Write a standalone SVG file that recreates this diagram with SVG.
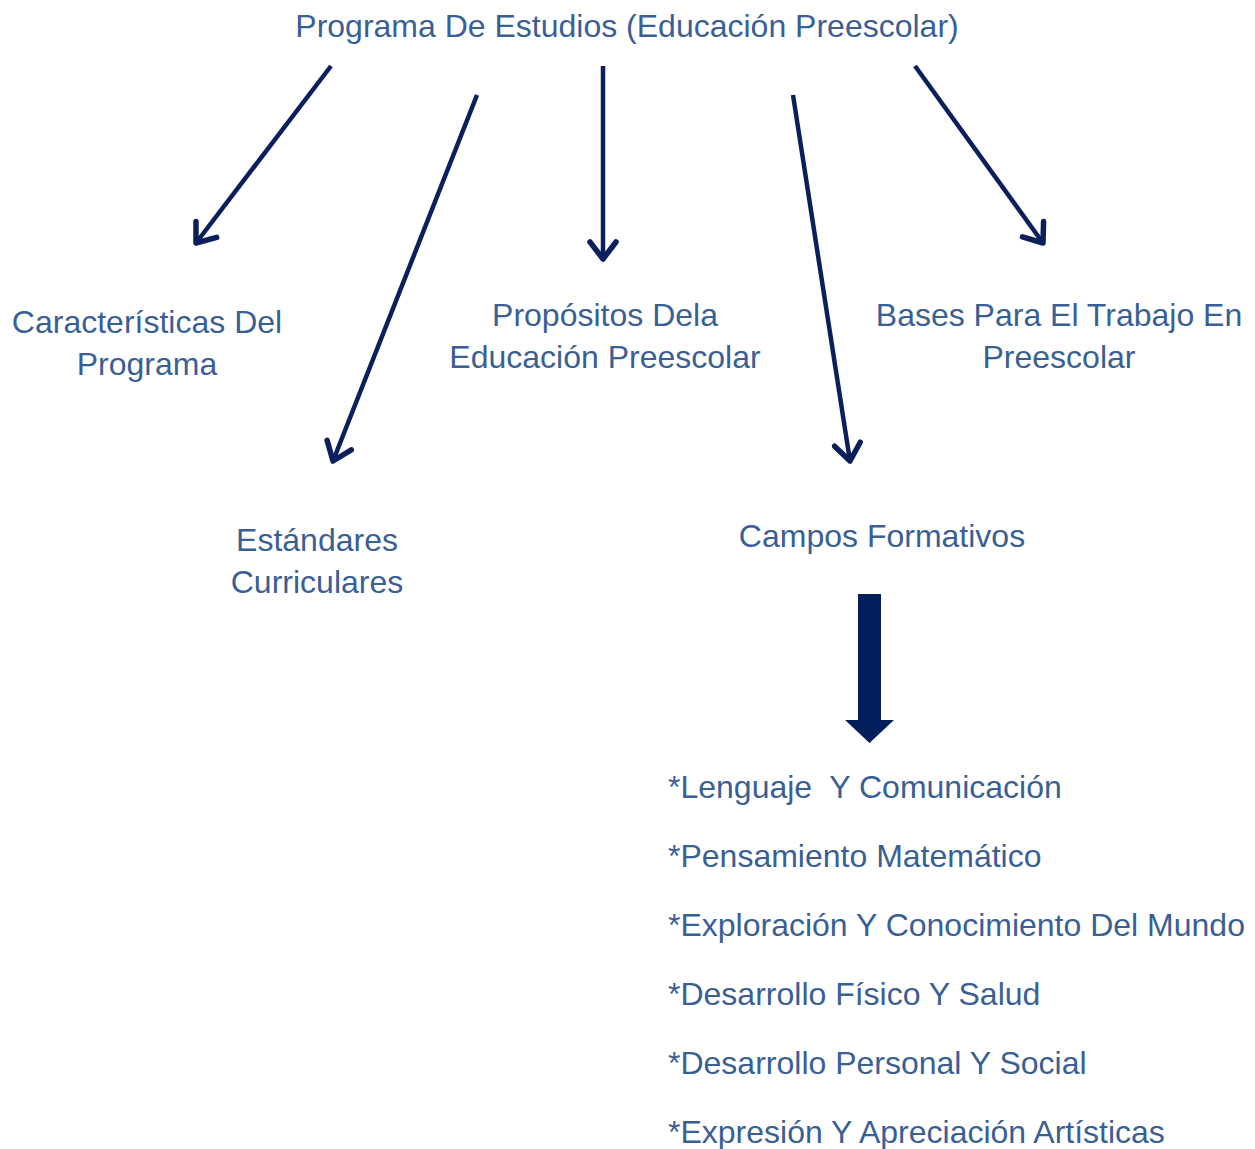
<svg xmlns="http://www.w3.org/2000/svg" width="1255" height="1149" viewBox="0 0 1255 1149">
<style>
text{font-family:"Liberation Sans",Arial,sans-serif;font-size:32px;fill:#3A5F95}
.c{text-anchor:middle}
.ln{stroke:#0B1F5C;stroke-width:4.5;fill:none}
</style>
<defs>
<marker id="ah" viewBox="-24 -16 28 32" markerWidth="28" markerHeight="32" markerUnits="userSpaceOnUse" orient="auto" refX="0" refY="0">
<path d="M-17,-13 L0,0 L-17,13" fill="none" stroke="#0B1F5C" stroke-width="5.5" stroke-linecap="round" stroke-linejoin="round"/>
</marker>
</defs>
<rect width="1255" height="1149" fill="#fff"/>
<g id="title"><text class="c" x="627" y="37">Programa De Estudios (Educación Preescolar)</text></g>
<g id="caracteristicas"><text class="c" x="147" y="333">Características Del</text><text class="c" x="147" y="375">Programa</text></g>
<g id="estandares"><text class="c" x="317" y="551">Estándares</text><text class="c" x="317" y="593">Curriculares</text></g>
<g id="propositos"><text class="c" x="605" y="326">Propósitos Dela</text><text class="c" x="605" y="368">Educación Preescolar</text></g>
<g id="bases"><text class="c" x="1059" y="326">Bases Para El Trabajo En</text><text class="c" x="1059" y="368">Preescolar</text></g>
<g id="campos"><text class="c" x="882" y="547">Campos Formativos</text></g>
<g id="lista">
<text x="668" y="798" xml:space="preserve">*Lenguaje  Y Comunicación</text>
<text x="668" y="867">*Pensamiento Matemático</text>
<text x="668" y="936">*Exploración Y Conocimiento Del Mundo</text>
<text x="668" y="1005">*Desarrollo Físico Y Salud</text>
<text x="668" y="1074">*Desarrollo Personal Y Social</text>
<text x="668" y="1143">*Expresión Y Apreciación Artísticas</text>
</g>
<g id="connectors">
<line class="ln" x1="331" y1="66" x2="196" y2="243" marker-end="url(#ah)"/>
<line class="ln" x1="477" y1="95" x2="333" y2="461" marker-end="url(#ah)"/>
<line class="ln" x1="603" y1="66" x2="603" y2="259" marker-end="url(#ah)"/>
<line class="ln" x1="793" y1="95" x2="850" y2="461" marker-end="url(#ah)"/>
<line class="ln" x1="915" y1="66" x2="1043" y2="243" marker-end="url(#ah)"/>
<polygon points="858,594 881,594 881,720 894,720 869.5,743 845,720 858,720" fill="#001F5B"/>
</g>
</svg>
